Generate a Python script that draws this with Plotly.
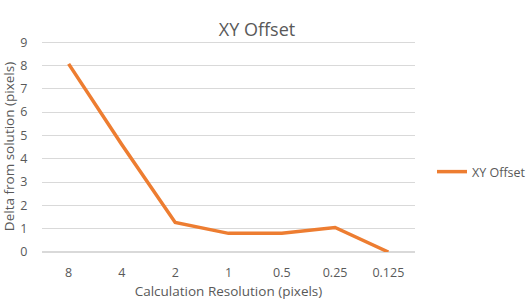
import plotly.graph_objects as go

categories = ["8", "4", "2", "1", "0.5", "0.25", "0.125"]
xy_offset = [8.07, 4.6, 1.27, 0.8, 0.8, 1.05, 0.0]
series_name = "XY Offset"

grey = "#595959"
font_family = "Open Sans, Liberation Sans, sans-serif"

fig = go.Figure()
fig.add_trace(go.Scatter(
    x=categories, y=xy_offset, mode="lines", name=series_name,
    line=dict(color="#ED7D31", width=3.5),
))

fig.update_layout(
    width=526, height=302,
    margin=dict(l=42, r=111, t=41, b=50, autoexpand=False),
    paper_bgcolor="white", plot_bgcolor="white",
    font=dict(family=font_family, color=grey, size=12),
    title=dict(text="XY Offset", x=257 / 526, xref="container", xanchor="center",
               yref="container", y=1 - 30 / 302, yanchor="middle",
               font=dict(size=18, color=grey)),
    showlegend=True,
    legend=dict(xref="container", yref="container", x=432 / 526, y=1 - 172 / 302,
                xanchor="left", yanchor="middle", font=dict(size=12.5, color=grey),
                itemwidth=30),
    xaxis=dict(type="category", range=[-0.5, 6.5], showgrid=False, zeroline=False, showline=False,
               automargin=False,
               ticks="outside", ticklen=9, tickcolor="rgba(0,0,0,0)",
               tickfont=dict(size=12.5, color=grey),
               title=dict(text="Calculation Resolution (pixels)", font=dict(size=13.5, color=grey), standoff=6)),
    yaxis=dict(range=[0, 9.05], dtick=1, showgrid=True, gridcolor="#d9d9d9", gridwidth=1,
               automargin=False,
               zeroline=True, zerolinecolor="#d9d9d9", showline=False,
               ticks="outside", ticklen=11, tickcolor="rgba(0,0,0,0)",
               tickfont=dict(size=12.5, color=grey),
               title=dict(text="Delta from solution (pixels)", font=dict(size=13.5, color=grey), standoff=2)),
)

fig.write_html("out.html", config={"displayModeBar": False},
               post_script="document.body.style.margin='0';")
